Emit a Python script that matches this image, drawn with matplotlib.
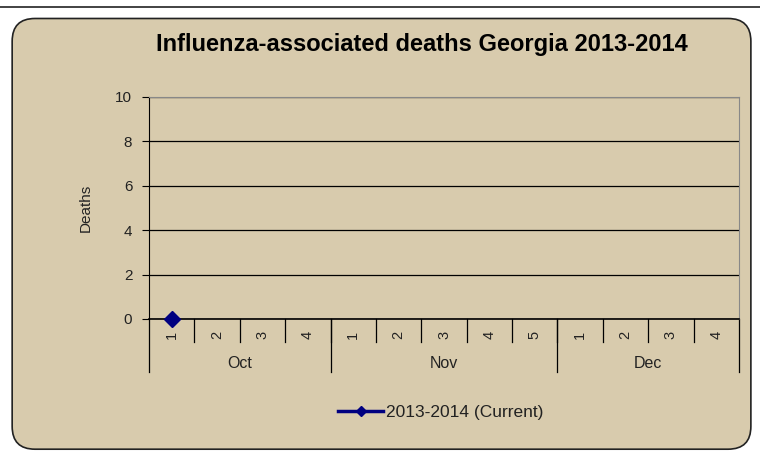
"""Influenza-associated deaths chart, Excel-style category axis."""

import matplotlib

matplotlib.use("Agg")
import matplotlib.pyplot as plt
import numpy as np
from matplotlib.patches import FancyBboxPatch

plt.rcParams["font.family"] = ["Liberation Sans", "DejaVu Sans"]

months = ["Oct", "Nov", "Dec"]
weeks_per_month = [4, 5, 4]
week_labels = ["1", "2", "3", "4", "1", "2", "3", "4", "5", "1", "2", "3", "4"]
deaths = [0, np.nan, np.nan, np.nan, np.nan, np.nan, np.nan,
          np.nan, np.nan, np.nan, np.nan, np.nan, np.nan]
series_name = "2013-2014 (Current)"
y_ticks = [0, 2, 4, 6, 8, 10]

bg = "#d8cbad"
navy = "#000080"
txt = "#222222"

fig = plt.figure(figsize=(7.6, 4.51), dpi=100)
fig.patch.set_facecolor("white")

# rounded chart frame
frame = FancyBboxPatch((0.016, 0.004), 0.972, 0.955, boxstyle="round,pad=0,rounding_size=0.03",
                       transform=fig.transFigure, facecolor=bg, edgecolor="#222222",
                       linewidth=1.2, mutation_aspect=760 / 451, zorder=-5)
fig.patches.append(frame)
# bottom of the previous frame peeking in at the top
fig.add_artist(plt.Line2D([0.0, 1.0], [0.985, 0.985], transform=fig.transFigure,
                          color="#222222", linewidth=1.2))

ax = fig.add_axes([149 / 760, 1 - 319 / 451, 590 / 760, 222 / 451])
ax.set_zorder(2)
ax.set_facecolor(bg)

n = len(week_labels)
x = np.arange(n)
ax.plot(x, deaths, color=navy, marker="D", markersize=8, linewidth=2.5, label=series_name,
        clip_on=False, zorder=5)

ax.set_xlim(-0.5, n - 0.5)
ax.set_ylim(0, 10)
ax.set_yticks(y_ticks)
ax.yaxis.grid(True, color="black", linewidth=0.9)
ax.set_axisbelow(True)
ax.tick_params(axis="y", labelsize=11, labelcolor=txt, length=5, color="black", pad=7)
ax.set_ylabel("Deaths", fontsize=11, color=txt, labelpad=16)

for side in ["top", "right"]:
    ax.spines[side].set_color("#888888")
ax.spines["left"].set_color("black")
ax.spines["bottom"].set_color("black")
ax.spines["bottom"].set_linewidth(1.2)

# week labels and dividers
ax.set_xticks([])
xt = ax.get_xaxis_transform()
for i, lab in enumerate(week_labels):
    ax.text(i, -0.07, lab, transform=xt, rotation=90, ha="center", va="center",
            fontsize=10.5, color=txt)
for b in range(1, n):
    ax.plot([b - 0.5, b - 0.5], [0, -0.105], transform=xt, color="black",
            linewidth=0.9, clip_on=False)

# month groups
start = 0
edges = [-0.5]
for m, w in zip(months, weeks_per_month):
    centre = start + (w - 1) / 2
    ax.text(centre, -0.2, m, transform=xt, ha="center", va="center", fontsize=11.5,
            color=txt)
    start += w
    edges.append(start - 0.5)
for e in edges:
    ax.plot([e, e], [0, -0.24], transform=xt, color="black", linewidth=0.9, clip_on=False)

fig.text(0.555, 1 - 45 / 451, "Influenza-associated deaths Georgia 2013-2014",
         ha="center", va="center", fontsize=17, fontweight="bold")

fig.legend(loc="center", bbox_to_anchor=(0.58, 1 - 412 / 451), frameon=False,
           fontsize=12.5, labelcolor=txt, handlelength=2.6, handletextpad=0.15,
           markerscale=0.7)

fig.savefig("out.png", dpi=100, facecolor=fig.get_facecolor())
